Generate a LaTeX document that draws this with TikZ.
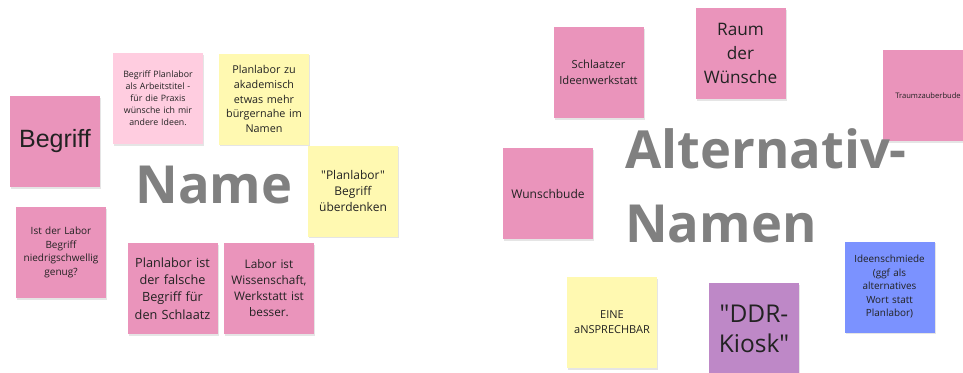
\documentclass[tikz,border=0pt]{standalone}
\usepackage{fontspec}
\setmainfont{Open Sans}[Ligatures=TeXOff]
\newfontfamily\arialfont{Liberation Sans}
\newfontfamily\titlefont{Open Sans}[UprightFont=* Bold]
\definecolor{spink}{HTML}{EA94BB}
\definecolor{slpink}{HTML}{FFCDE0}
\definecolor{syellow}{HTML}{FFF9B1}
\definecolor{spurple}{HTML}{BE88C7}
\definecolor{sblue}{HTML}{7B92FF}
\definecolor{stext}{HTML}{222222}
\definecolor{ttext}{HTML}{808080}
\tikzset{
  sticky/.style={rectangle, minimum width=90pt, minimum height=91pt, inner sep=0pt,
    text width=86pt, align=center, text=stext,
    preaction={fill=black!10, transform canvas={xshift=1.2pt,yshift=-1.5pt}}},
  bigtitle/.style={inner sep=0pt, text=ttext, font=\titlefont\fontsize{52.5}{74}\selectfont}
}
\newcommand{\fsz}[2]{\fontsize{#1}{#2}\selectfont}
\begin{document}
\begin{tikzpicture}[x=1pt,y=-1pt]
\clip (0,0) rectangle (963,372);
\fill[white] (0,0) rectangle (963,372);
% left cluster
\node[sticky, fill=spink, font=\arialfont\fsz{25}{30}] (begriff) at (55,141.5) {Begriff};
\node[sticky, fill=slpink, font=\fsz{8.8}{12}] (arbeitstitel) at (158,98.5) {Begriff Planlabor\\als Arbeitstitel -\\für die Praxis\\wünsche ich mir\\andere Ideen.};
\node[sticky, fill=syellow, font=\fsz{10.8}{14.7}] (akademisch) at (264,99) {Planlabor zu\\akademisch\\etwas mehr\\bürgernahe im\\Namen};
\node[sticky, fill=syellow, font=\fsz{12}{16.3}] (ueberdenken) at (353,191) {"Planlabor"\\Begriff\\überdenken};
\node[sticky, fill=spink, font=\fsz{10}{13.7}] (niedrig) at (61,252.5) {Ist der Labor\\Begriff\\niedrigschwellig\\genug?};
\node[sticky, fill=spink, font=\fsz{12.7}{17.3}] (falsch) at (172.5,288.5) {Planlabor ist\\der falsche\\Begriff für\\den Schlaatz};
\node[sticky, fill=spink, font=\fsz{11.8}{16}] (labor) at (269,288.5) {Labor ist\\Wissenschaft,\\Werkstatt ist\\besser.};
\node[bigtitle, anchor=base] (name) at (214,203) {Name};
% right cluster
\node[sticky, fill=spink, font=\fsz{11.2}{15.7}] (schlaatzer) at (598.5,72.5) {Schlaatzer\\Ideenwerkstatt};
\node[sticky, fill=spink, font=\fsz{17.2}{24}] (raum) at (740.5,53.5) {Raum\\der\\Wünsche};
\node[sticky, fill=spink, font=\fsz{7.6}{9}] (traum) at (928,95.5) {Traumzauberbude};
\node[sticky, fill=spink, font=\fsz{12}{16}] (wunsch) at (548,193.5) {Wunschbude};
\node[sticky, fill=syellow, font=\fsz{11}{15}] (eine) at (612,322.5) {EINE\\aNSPRECHBAR};
\node[sticky, fill=spurple, font=\fsz{24.5}{30}] (ddr) at (754,328.5) {"DDR-\\Kiosk"};
\node[sticky, fill=sblue, font=\fsz{9.9}{13.5}] (schmiede) at (889.5,287) {Ideenschmiede\\(ggf als\\alternatives\\Wort statt\\Planlabor)};
\node[bigtitle, anchor=base west] (alt1) at (625,168) {Alternativ-};
\node[bigtitle, anchor=base west] (alt2) at (625,242) {Namen};
\end{tikzpicture}
\end{document}
